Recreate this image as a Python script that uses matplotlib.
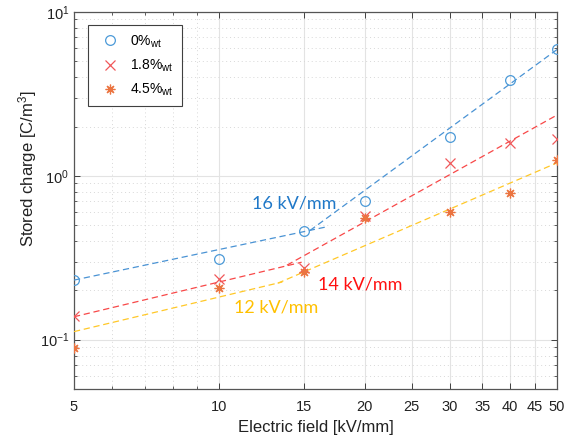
import matplotlib
matplotlib.use("Agg")
import matplotlib.pyplot as plt
from matplotlib.ticker import FixedLocator, NullFormatter, LogLocator, FixedFormatter

plt.rcParams['font.family'] = ['Liberation Sans', 'DejaVu Sans']
plt.rcParams['mathtext.fontset'] = 'custom'
plt.rcParams['mathtext.rm'] = 'Liberation Sans'
plt.rcParams['mathtext.it'] = 'Liberation Sans:italic'

# ---- data ----
field = [5, 10, 15, 20, 30, 40, 50]
charge_0 = [0.231, 0.31, 0.458, 0.70, 1.72, 3.87, 5.97]
charge_18 = [0.140, 0.234, 0.273, 0.57, 1.20, 1.585, 1.68]
charge_45 = [0.0895, 0.207, 0.258, 0.555, 0.605, 0.79, 1.25]

# fitted dashed segments (endpoints, straight in log-log)
fit0_lo_x, fit0_lo_y = [5, 16.6], [0.231, 0.487]
fit0_hi_x, fit0_hi_y = [15.4, 50], [0.464, 5.9]
fit18_lo_x, fit18_lo_y = [5, 14.8], [0.138, 0.297]
fit18_hi_x, fit18_hi_y = [13.8, 50], [0.285, 2.35]
fit45_lo_x, fit45_lo_y = [5, 13.5], [0.112, 0.225]
fit45_hi_x, fit45_hi_y = [13.2, 50], [0.221, 1.2]

legend_labels = [r'0%$_{\rm wt}$', r'1.8%$_{\rm wt}$', r'4.5%$_{\rm wt}$']
xticks = [5, 10, 15, 20, 25, 30, 35, 40, 45, 50]
xminor = [6, 7, 8, 9]
annot_text = ["16 kV/mm", "14 kV/mm", "12 kV/mm"]
annot_x = [14.3, 19.6, 13.1]
annot_y = [0.676, 0.218, 0.158]

c_blue_m, c_red_m, c_or_m = '#4C9AD8', '#F0585A', '#EB7440'
c_blue_l, c_red_l, c_yel_l = '#4A93D4', '#F84848', '#FFC828'
c_blue_t, c_red_t, c_yel_t = '#1F78C8', '#FF1010', '#FFC000'

fig = plt.figure(figsize=(5.70, 4.41), dpi=100)
ax = fig.add_axes([74/570, 1-389/441, (557-74)/570, (389-12)/441])
ax.set_xscale('log')
ax.set_yscale('log')

ax.plot(field, charge_0, 'o', ms=7, mfc='none', mec=c_blue_m, mew=0.9, label=legend_labels[0], zorder=4)
ax.plot(field, charge_18, 'x', ms=6.5, mec=c_red_m, mew=0.9, label=legend_labels[1], zorder=4)
ax.plot(field, charge_45, marker=(8, 2, 0), ls='none', ms=7, mec=c_or_m, mew=0.9, label=legend_labels[2], zorder=4)

dash = (0, (5, 3))
ax.plot(fit0_lo_x, fit0_lo_y, color=c_blue_l, lw=0.9, ls=dash, zorder=3)
ax.plot(fit0_hi_x, fit0_hi_y, color=c_blue_l, lw=0.9, ls=dash, zorder=3)
ax.plot(fit18_lo_x, fit18_lo_y, color=c_red_l, lw=0.9, ls=dash, zorder=3)
ax.plot(fit18_hi_x, fit18_hi_y, color=c_red_l, lw=0.9, ls=dash, zorder=3)
ax.plot(fit45_lo_x, fit45_lo_y, color=c_yel_l, lw=0.9, ls=dash, zorder=3)
ax.plot(fit45_hi_x, fit45_hi_y, color=c_yel_l, lw=0.9, ls=dash, zorder=3)

for txt, x, y, col in zip(annot_text, annot_x, annot_y, [c_blue_t, c_red_t, c_yel_t]):
    ax.text(x, y, txt, color=col, fontsize=13, family=['Lato', 'DejaVu Sans'], ha='center', va='center')

ax.set_xlim(5, 50)
ax.set_ylim(0.05, 10)
ax.xaxis.set_major_locator(FixedLocator(xticks))
ax.xaxis.set_major_formatter(FixedFormatter([str(t) for t in xticks]))
ax.xaxis.set_minor_locator(FixedLocator(xminor))
ax.xaxis.set_minor_formatter(NullFormatter())
ax.yaxis.set_major_locator(LogLocator(base=10, numticks=10))
ax.yaxis.set_minor_locator(LogLocator(base=10, subs=[2, 3, 4, 5, 6, 7, 8, 9], numticks=20))
ax.yaxis.set_minor_formatter(NullFormatter())

ax.grid(True, which='major', color='#e3e3e3', lw=0.8, ls='-')
ax.grid(True, which='minor', color='#d8d8d8', lw=0.7, ls=(0, (1, 3)))
ax.set_axisbelow(True)
ax.tick_params(which='both', direction='in', top=True, right=True, colors='#404040', labelcolor='#222222', labelsize=10.5)
ax.tick_params(which='major', length=4, width=0.7)
ax.tick_params(which='minor', length=2.5, width=0.6)
ax.tick_params(axis='x', pad=8)
for s in ax.spines.values():
    s.set_color('#555555')
    s.set_linewidth(0.9)

ax.set_xlabel('Electric field [kV/mm]', fontsize=12, color='#222222', labelpad=4)
ax.set_ylabel('Stored charge [C/m$^3$]', fontsize=12, color='#222222', labelpad=1)
ax.yaxis.set_label_coords(-0.072, 0.585)

leg = ax.legend(loc='upper left', bbox_to_anchor=(0.029, 0.9655), borderaxespad=0, fontsize=10,
                frameon=True, fancybox=False, edgecolor='#404040', framealpha=1, borderpad=0.6,
                handletextpad=0.5, labelspacing=0.55, handlelength=1.95)
leg.get_frame().set_linewidth(0.8)

fig.savefig('out.png', dpi=100)
